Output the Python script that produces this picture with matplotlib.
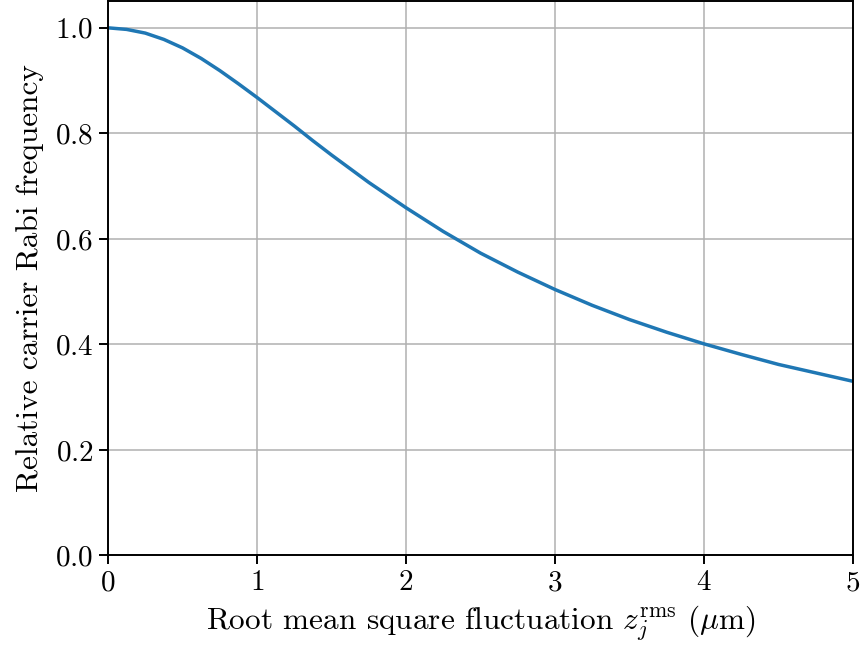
import matplotlib
matplotlib.use("Agg")
import matplotlib.pyplot as plt

plt.rcParams["font.family"] = ["cmr10", "DejaVu Serif"]
plt.rcParams["mathtext.fontset"] = "cm"
plt.rcParams["axes.formatter.use_mathtext"] = True

# rms fluctuation (um) and relative carrier Rabi frequency
z_rms = [0.0, 0.125, 0.25, 0.375, 0.5, 0.625, 0.75, 0.875, 1.0, 1.125,
         1.25, 1.375, 1.5, 1.625, 1.75, 1.875, 2.0, 2.25, 2.5, 2.75, 3.0,
         3.25, 3.5, 3.75, 4.0, 4.25, 4.5, 4.75, 5.0]
rabi_rel = [1.000, 0.997, 0.990, 0.978, 0.962, 0.942, 0.919, 0.894, 0.868,
            0.841, 0.814, 0.786, 0.759, 0.733, 0.707, 0.683, 0.659, 0.614,
            0.573, 0.537, 0.504, 0.474, 0.447, 0.423, 0.401, 0.381, 0.362,
            0.346, 0.330]

x_ticks = [0, 1, 2, 3, 4, 5]
y_ticks = [0.0, 0.2, 0.4, 0.6, 0.8, 1.0]

fig = plt.figure(figsize=(8.62, 6.55), dpi=100)
ax = fig.add_axes([0.1253, 0.152, 0.8643, 0.8458])

ax.plot(z_rms, rabi_rel, color="#1f77b4", lw=2.5, solid_joinstyle="round")
ax.set_xlim(0, 5)
ax.set_ylim(0, 1.05)
ax.set_xticks(x_ticks)
ax.set_yticks(y_ticks)
ax.grid(True, color="#b0b0b0", lw=1.1)
ax.set_axisbelow(True)

for s in ax.spines.values():
    s.set_linewidth(1.4)
ax.tick_params(labelsize=21, width=1.4, length=6.5, pad=4)

ax.set_xlabel(r"Root mean square fluctuation $z_j^{\mathrm{rms}}$ ($\mu$m)",
              fontsize=22.5, labelpad=5)
ax.set_ylabel("Relative carrier Rabi frequency", fontsize=22.5, labelpad=8)

fig.savefig("out.png", dpi=100)
